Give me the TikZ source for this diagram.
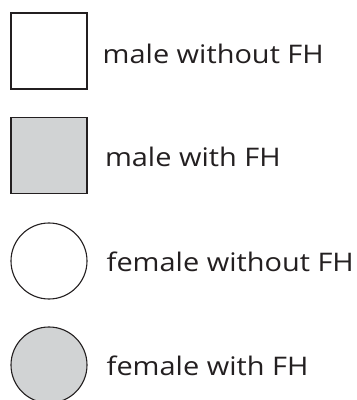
\documentclass[tikz,border=0pt]{standalone}
\usepackage{fontspec}
\setmainfont{Open Sans}[FakeStretch=1.13]
\definecolor{stroke}{HTML}{231F20}
\definecolor{fh}{HTML}{D1D3D4}
\begin{document}
\begin{tikzpicture}[x=1pt,y=1pt,
  sym/.style={draw=stroke,line width=1.1pt,inner sep=0pt,minimum size=76pt},
  lab/.style={anchor=base west,inner sep=0pt,text=stroke,font=\fontsize{25.6}{30}\selectfont}]
\useasboundingbox (0,0) rectangle (357,400);
\node[sym,rectangle,fill=white] (s1) at (49,349) {};
\node[sym,rectangle,fill=fh] (s2) at (49,244.5) {};
\node[sym,circle,fill=white] (c1) at (49,139) {};
\node[sym,circle,fill=fh] (c2) at (49,35) {};
\node[lab] (t1) at (102.5,336.7) {male without FH};
\node[lab] (t2) at (104.8,233.3) {male with FH};
\node[lab] (t3) at (106.5,128.3) {female without FH};
\node[lab] (t4) at (106.5,24.3) {female with FH};
\end{tikzpicture}
\end{document}
